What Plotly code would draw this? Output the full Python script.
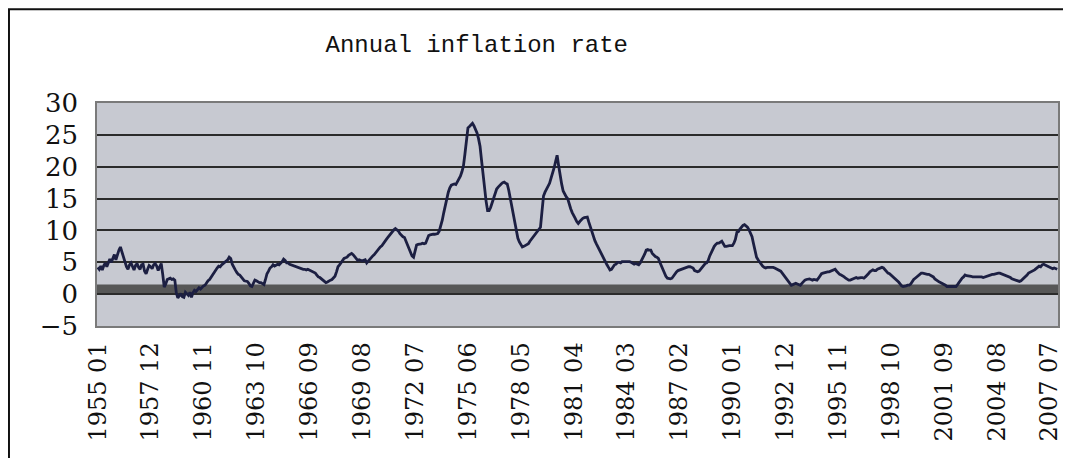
import plotly.graph_objects as go

# UK annual RPI inflation (%), monthly
START_YEAR = 1955
r1955 = [4.2, 3.9, 4.4, 3.8, 4.5, 4.9, 4.3, 5.1, 5.5, 5.0, 5.8, 6.2]
r1956 = [5.4, 6.3, 6.9, 7.4, 6.6, 5.7, 5.0, 4.3, 3.9, 4.6, 4.9, 4.4]
r1957 = [3.8, 4.5, 4.8, 4.2, 3.9, 4.6, 4.7, 3.6, 3.2, 3.9, 4.5, 4.3]
r1958 = [4.0, 4.6, 4.8, 4.4, 3.7, 4.3, 4.8, 3.1, 1.1, 1.6, 2.3, 2.4]
r1959 = [2.5, 2.3, 2.4, 2.2, 0.2, -0.6, -0.3, 0.1, -0.4, -0.5, 0.3, 0.1]
r1960 = [-0.2, 0.3, -0.5, 0.2, 0.6, 0.4, 0.7, 1.0, 0.8, 1.1, 1.3, 1.4]
r1961 = [1.8, 2.1, 2.3, 2.7, 3.0, 3.3, 3.9, 4.1, 4.4, 4.3, 4.6, 4.8]
r1962 = [4.9, 5.2, 5.4, 5.8, 5.6, 4.7, 4.1, 3.8, 3.4, 3.1, 3.0, 2.6]
r1963 = [2.4, 2.1, 2.0, 2.0, 1.7, 1.3, 1.2, 1.7, 2.2, 2.1, 1.9, 1.8]
r1964 = [1.8, 1.6, 1.5, 2.3, 3.2, 3.6, 4.1, 4.3, 4.6, 4.4, 4.6, 4.7]
r1965 = [4.6, 4.8, 5.1, 5.5, 5.3, 4.9, 4.9, 4.7, 4.6, 4.5, 4.4, 4.3]
r1966 = [4.2, 4.1, 4.1, 4.0, 3.9, 3.9, 3.8, 3.9, 3.8, 3.6, 3.5, 3.4]
r1967 = [3.3, 3.0, 2.7, 2.6, 2.4, 2.2, 2.0, 1.8, 1.9, 2.1, 2.2, 2.3]
r1968 = [2.6, 2.8, 3.5, 4.3, 4.6, 5.0, 5.3, 5.6, 5.7, 5.8, 6.1, 6.3]
r1969 = [6.4, 6.2, 5.9, 5.6, 5.3, 5.4, 5.3, 5.2, 5.3, 5.4, 4.9, 5.2]
r1970 = [5.4, 5.7, 6.0, 6.2, 6.5, 6.9, 7.1, 7.4, 7.6, 8.0, 8.3, 8.6]
r1971 = [8.9, 9.2, 9.5, 9.9, 10.1, 10.3, 10.1, 9.9, 9.5, 9.2, 9.0, 8.9]
r1972 = [8.3, 7.7, 7.0, 6.6, 6.0, 5.8, 6.6, 7.7, 7.8, 7.8, 7.9, 8.0]
r1973 = [7.9, 8.0, 8.6, 9.2, 9.3, 9.4, 9.4, 9.4, 9.5, 9.5, 9.9, 10.6]
r1974 = [11.6, 12.8, 14.0, 15.2, 16.0, 16.7, 17.1, 17.2, 17.3, 17.2, 17.6, 18.1]
r1975 = [18.5, 19.2, 20.1, 22.0, 24.2, 26.1, 26.3, 26.6, 26.8, 26.4, 25.9, 25.3]
r1976 = [24.4, 23.2, 21.0, 18.5, 16.4, 14.6, 13.1, 13.1, 13.6, 14.4, 15.1, 15.8]
r1977 = [16.5, 16.8, 17.1, 17.3, 17.5, 17.6, 17.4, 17.3, 16.3, 15.0, 13.6, 12.2]
r1978 = [10.8, 9.8, 8.8, 8.2, 7.7, 7.4, 7.5, 7.6, 7.7, 7.9, 8.3, 8.6]
r1979 = [9.0, 9.3, 9.6, 9.9, 10.2, 10.5, 13.0, 15.4, 16.0, 16.5, 17.0, 17.4]
r1980 = [18.2, 18.9, 19.8, 20.8, 21.8, 20.2, 18.5, 17.3, 16.2, 15.6, 15.3, 15.0]
r1981 = [14.0, 13.4, 12.8, 12.2, 11.9, 11.4, 11.1, 11.4, 11.7, 11.9, 12.0, 12.0]
r1982 = [12.1, 11.3, 10.5, 9.6, 9.0, 8.4, 7.9, 7.4, 6.9, 6.4, 5.9, 5.5]
r1983 = [5.1, 4.6, 4.2, 3.8, 3.9, 4.3, 4.6, 4.7, 5.0, 5.0, 4.9, 5.1]
r1984 = [5.1, 5.2, 5.1, 5.2, 5.1, 5.0, 4.9, 4.7, 4.8, 4.7, 4.6, 4.9]
r1985 = [5.3, 5.8, 6.3, 6.9, 7.0, 6.9, 6.9, 6.4, 6.1, 5.9, 5.8, 5.6]
r1986 = [5.0, 4.4, 3.8, 3.2, 2.8, 2.5, 2.4, 2.4, 2.5, 2.9, 3.2, 3.5]
r1987 = [3.7, 3.8, 3.9, 4.0, 4.1, 4.1, 4.2, 4.3, 4.3, 4.2, 4.1, 3.7]
r1988 = [3.6, 3.5, 3.6, 3.9, 4.2, 4.5, 4.8, 4.9, 5.3, 6.0, 6.6, 7.2]
r1989 = [7.5, 7.8, 8.0, 8.0, 8.2, 8.3, 7.9, 7.5, 7.5, 7.6, 7.6, 7.6]
r1990 = [7.6, 8.0, 8.6, 9.7, 9.8, 10.2, 10.5, 10.8, 10.9, 10.7, 10.5, 10.1]
r1991 = [9.6, 9.0, 7.9, 6.8, 5.8, 5.4, 5.0, 4.6, 4.4, 4.2, 4.1, 4.2]
r1992 = [4.2, 4.3, 4.2, 4.2, 4.1, 4.0, 3.9, 3.8, 3.6, 3.3, 3.0, 2.6]
r1993 = [2.3, 2.0, 1.7, 1.4, 1.5, 1.6, 1.7, 1.6, 1.5, 1.4, 1.7, 2.0]
r1994 = [2.2, 2.3, 2.4, 2.4, 2.3, 2.2, 2.3, 2.2, 2.2, 2.5, 2.9, 3.2]
r1995 = [3.3, 3.4, 3.5, 3.5, 3.5, 3.6, 3.7, 3.8, 3.9, 3.6, 3.3, 3.1]
r1996 = [3.0, 2.9, 2.7, 2.5, 2.3, 2.2, 2.2, 2.3, 2.3, 2.5, 2.6, 2.5]
r1997 = [2.6, 2.6, 2.6, 2.5, 2.7, 2.9, 3.2, 3.5, 3.6, 3.8, 3.7, 3.7]
r1998 = [3.9, 4.0, 4.1, 4.2, 4.1, 3.8, 3.5, 3.3, 3.2, 3.0, 2.8, 2.6]
r1999 = [2.4, 2.2, 1.9, 1.6, 1.3, 1.2, 1.2, 1.3, 1.4, 1.4, 1.6, 2.0]
r2000 = [2.3, 2.5, 2.7, 3.0, 3.2, 3.3, 3.3, 3.2, 3.2, 3.1, 3.1, 3.0]
r2001 = [2.9, 2.7, 2.4, 2.2, 2.1, 1.9, 1.8, 1.7, 1.6, 1.4, 1.2, 1.2]
r2002 = [1.3, 1.2, 1.3, 1.2, 1.2, 1.5, 1.9, 2.2, 2.5, 2.7, 3.0, 2.9]
r2003 = [2.9, 2.8, 2.8, 2.7, 2.7, 2.8, 2.8, 2.7, 2.7, 2.7, 2.6, 2.7]
r2004 = [2.7, 2.8, 2.9, 3.0, 3.1, 3.1, 3.2, 3.2, 3.3, 3.3, 3.2, 3.2]
r2005 = [3.1, 3.0, 2.8, 2.7, 2.6, 2.4, 2.3, 2.2, 2.1, 2.0, 2.0, 2.1]
r2006 = [2.3, 2.5, 2.7, 3.0, 3.3, 3.4, 3.6, 3.7, 3.8, 4.0, 4.2, 4.4]
r2007 = [4.3, 4.6, 4.7, 4.6, 4.4, 4.3, 4.2, 4.1, 4.0, 4.1, 4.0, 3.9]

yearly = [r1955, r1956, r1957, r1958, r1959, r1960, r1961, r1962, r1963, r1964,
          r1965, r1966, r1967, r1968, r1969, r1970, r1971, r1972, r1973, r1974,
          r1975, r1976, r1977, r1978, r1979, r1980, r1981, r1982, r1983, r1984,
          r1985, r1986, r1987, r1988, r1989, r1990, r1991, r1992, r1993, r1994,
          r1995, r1996, r1997, r1998, r1999, r2000, r2001, r2002, r2003, r2004,
          r2005, r2006, r2007]

months = []
rates = []
for i, row in enumerate(yearly):
    for j, v in enumerate(row):
        months.append(f"{START_YEAR + i} {j + 1:02d}")
        rates.append(v)

LABEL_STEP = 35  # one category label every 35 months
tick_labels = months[::LABEL_STEP]

_LINE = "#1c1f42"
_PLOT_BG = "#c7c9d1"
_GRID = "#2b2b2b"
_BAND = "#575757"
_SERIF = "DejaVu Serif, Liberation Serif, serif"

fig = go.Figure(go.Scatter(
    x=months, y=rates, mode="lines",
    line=dict(color=_LINE, width=2.8),
    showlegend=False,
))

# thick dark band sitting on the zero line
fig.add_shape(type="rect", xref="paper", yref="y", x0=0, x1=1, y0=0, y1=1.5,
              fillcolor=_BAND, line_width=0, layer="between")
# outer chart frame (runs off the right/bottom of the picture)
fig.add_shape(type="rect", xref="paper", yref="paper",
              x0=-0.0916, x1=1.03, y0=-0.8, y1=1.42,
              line=dict(color="#111111", width=2), fillcolor="rgba(0,0,0,0)")

# page body has an 8px margin, so the figure is 8px smaller and shifted
fig.update_layout(
    width=1063, height=450,
    paper_bgcolor="white", plot_bgcolor=_PLOT_BG,
    margin=dict(l=89, r=13, t=95, b=132, autoexpand=False),
    title=dict(text="Annual inflation rate", x=0.441, xanchor="center",
               y=0.922, yanchor="middle", yref="container",
               font=dict(family="Liberation Mono, DejaVu Sans Mono, monospace",
                         size=24, color="#111111")),
)
fig.update_xaxes(
    type="category", range=[-0.5, len(months) - 0.5],
    tickmode="array", tickvals=tick_labels, ticktext=tick_labels,
    tickangle=-90, ticklabelstandoff=5,
    tickfont=dict(family=_SERIF, size=24, color="#111111"),
    showgrid=False, zeroline=False,
    showline=True, linecolor="#7a7a7a", linewidth=1.5, mirror=True,
)
fig.update_yaxes(
    range=[-5, 30], dtick=5, tick0=0,
    tickfont=dict(family=_SERIF, size=26, color="#111111"),
    ticklabelstandoff=12,
    showgrid=True, gridcolor=_GRID, gridwidth=1.5, zeroline=False,
    showline=True, linecolor="#7a7a7a", linewidth=1.5, mirror=True,
)

fig.write_html("out.html")
